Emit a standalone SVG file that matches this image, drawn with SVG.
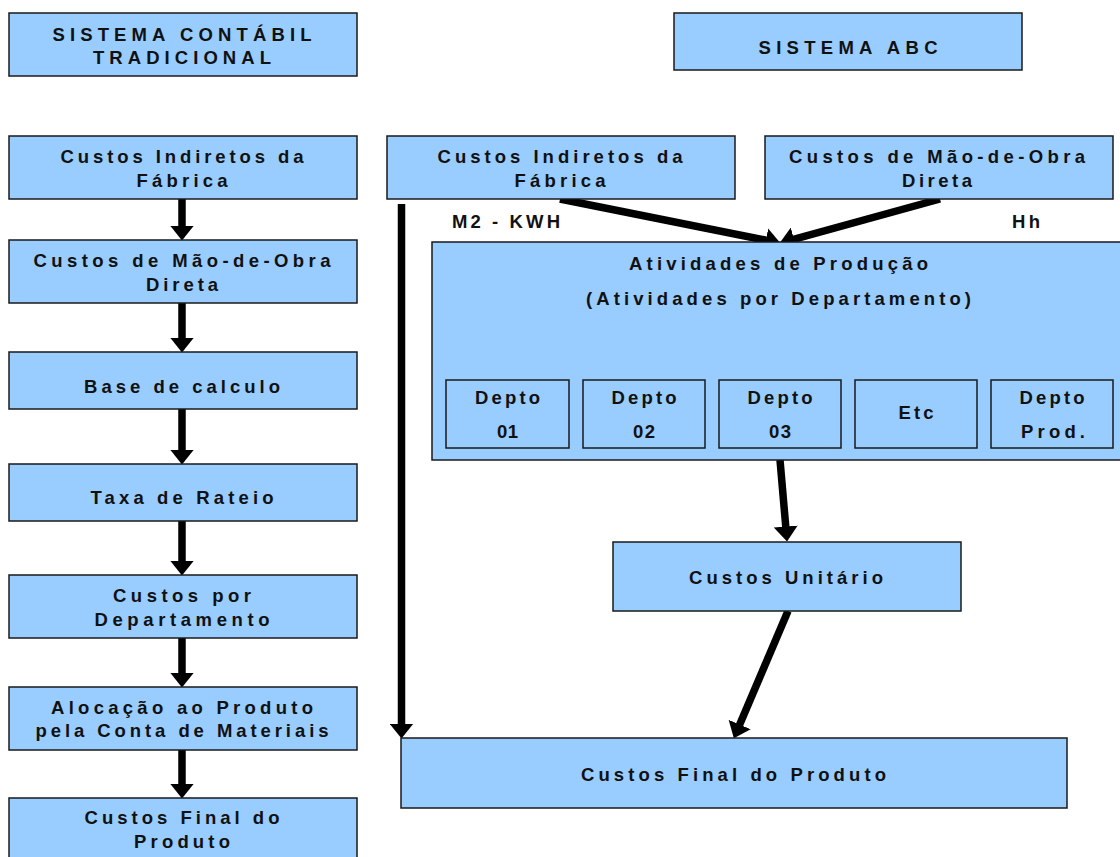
<svg xmlns="http://www.w3.org/2000/svg" width="1120" height="857" viewBox="0 0 1120 857">
<defs>
<style>
.box{fill:#99CCFF;stroke:#1a1a1a;stroke-width:1.5}
.t{font-family:"Liberation Sans",Arial,sans-serif;font-weight:bold;font-size:18.5px;fill:#111;text-anchor:middle}
.l{font-family:"Liberation Sans",Arial,sans-serif;font-weight:bold;font-size:18.5px;fill:#111}
.arr{stroke:#000;stroke-width:7.5;fill:none;marker-end:url(#ah)}
</style>
<marker id="ah" markerUnits="userSpaceOnUse" markerWidth="15" markerHeight="24" viewBox="0 0 15 24" refX="0.5" refY="12" orient="auto">
<path d="M0,0 L15,12 L0,24 z" fill="#000"/>
</marker>
</defs>
<rect width="1120" height="857" fill="#fff"/>

<g id="connectors">
<line class="arr" x1="182" y1="199" x2="182" y2="226"/>
<line class="arr" x1="182" y1="303" x2="182" y2="338"/>
<line class="arr" x1="182" y1="409" x2="182" y2="450"/>
<line class="arr" x1="182" y1="521" x2="182" y2="561"/>
<line class="arr" x1="182" y1="638" x2="182" y2="673"/>
<line class="arr" x1="182" y1="750" x2="182" y2="784"/>
<line class="arr" x1="401.5" y1="204" x2="401.5" y2="724"/>
<line class="arr" x1="560" y1="199" x2="766.3" y2="240.3"/>
<line class="arr" x1="940" y1="199" x2="793.5" y2="239.3"/>
<line class="arr" x1="780" y1="460" x2="785.8" y2="527"/>
<line class="arr" x1="788" y1="611" x2="739.5" y2="725"/>
</g>

<g id="n-sistema-tradicional">
<rect class="box" x="9" y="13" width="348" height="63"/>
<text class="t" x="182" y="40.5" textLength="259">SISTEMA CONTÁBIL</text>
<text class="t" x="182" y="63.5" textLength="178">TRADICIONAL</text>
</g>
<g id="n-cif-left">
<rect class="box" x="9" y="136" width="348" height="63"/>
<text class="t" x="182" y="163" textLength="243">Custos Indiretos da</text>
<text class="t" x="182" y="187" textLength="91">Fábrica</text>
</g>
<g id="n-mod-left">
<rect class="box" x="9" y="240" width="348" height="63"/>
<text class="t" x="182" y="267" textLength="297">Custos de Mão-de-Obra</text>
<text class="t" x="182" y="291" textLength="72">Direta</text>
</g>
<g id="n-base">
<rect class="box" x="9" y="352" width="348" height="57"/>
<text class="t" x="182" y="393" textLength="196">Base de calculo</text>
</g>
<g id="n-taxa">
<rect class="box" x="9" y="464" width="348" height="57"/>
<text class="t" x="182" y="504" textLength="183">Taxa de Rateio</text>
</g>
<g id="n-depto-custos">
<rect class="box" x="9" y="575" width="348" height="63"/>
<text class="t" x="182" y="602" textLength="138">Custos por</text>
<text class="t" x="182" y="626" textLength="175">Departamento</text>
</g>
<g id="n-alocacao">
<rect class="box" x="9" y="687" width="348" height="63"/>
<text class="t" x="182" y="714" textLength="262">Alocação ao Produto</text>
<text class="t" x="182" y="737" textLength="293">pela Conta de Materiais</text>
</g>
<g id="n-final-left">
<rect class="box" x="9" y="798" width="348" height="70"/>
<text class="t" x="182" y="824" textLength="195">Custos Final do</text>
<text class="t" x="182" y="848" textLength="96">Produto</text>
</g>

<g id="n-sistema-abc">
<rect class="box" x="674" y="13" width="348" height="57"/>
<text class="t" x="848" y="54" textLength="179">SISTEMA ABC</text>
</g>
<g id="n-cif-right">
<rect class="box" x="387" y="136" width="348" height="63"/>
<text class="t" x="560" y="163" textLength="245">Custos Indiretos da</text>
<text class="t" x="560" y="187" textLength="91">Fábrica</text>
</g>
<g id="n-mod-right">
<rect class="box" x="765" y="136" width="348" height="63"/>
<text class="t" x="937" y="163" textLength="296">Custos de Mão-de-Obra</text>
<text class="t" x="937" y="187" textLength="70">Direta</text>
</g>
<g id="labels">
<text class="l" x="452" y="228" textLength="108">M2 - KWH</text>
<text class="l" x="1012" y="228" textLength="28">Hh</text>
</g>
<g id="n-atividades">
<rect class="box" x="432" y="242" width="700" height="218"/>
<text class="t" x="778.5" y="270" textLength="299">Atividades de Produção</text>
<text class="t" x="778.5" y="305" textLength="385">(Atividades por Departamento)</text>
</g>
<g id="n-depto01">
<rect class="box" x="446" y="380" width="123" height="68"/>
<text class="t" x="507.5" y="404" textLength="65">Depto</text>
<text class="t" x="507.5" y="438" textLength="21">01</text>
</g>
<g id="n-depto02">
<rect class="box" x="583" y="380" width="122" height="68"/>
<text class="t" x="644" y="404" textLength="65">Depto</text>
<text class="t" x="644" y="438" textLength="22">02</text>
</g>
<g id="n-depto03">
<rect class="box" x="719" y="380" width="122" height="68"/>
<text class="t" x="780" y="404" textLength="65">Depto</text>
<text class="t" x="780" y="438" textLength="22">03</text>
</g>
<g id="n-etc">
<rect class="box" x="855" y="380" width="122" height="68"/>
<text class="t" x="916" y="419" textLength="35">Etc</text>
</g>
<g id="n-depto-prod">
<rect class="box" x="991" y="380" width="122" height="68"/>
<text class="t" x="1052" y="404" textLength="65">Depto</text>
<text class="t" x="1053" y="438" textLength="64">Prod.</text>
</g>
<g id="n-unitario">
<rect class="box" x="613" y="542" width="348" height="69"/>
<text class="t" x="786" y="584" textLength="194">Custos Unitário</text>
</g>
<g id="n-final-right">
<rect class="box" x="401" y="738" width="666" height="70"/>
<text class="t" x="733.5" y="781" textLength="305">Custos Final do Produto</text>
</g>
</svg>
